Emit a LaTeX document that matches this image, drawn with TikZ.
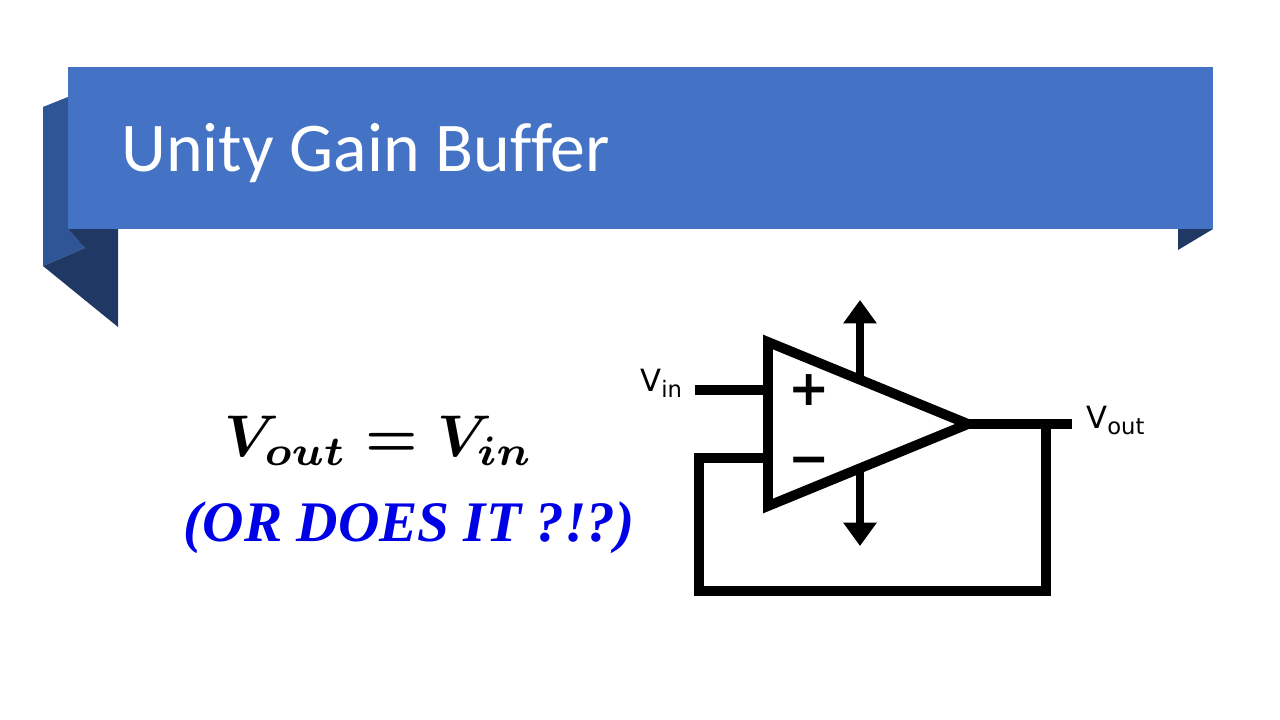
\documentclass[tikz,border=0pt]{standalone}
\usepackage{fontspec}
\usepackage{amssymb}
\usetikzlibrary{calc, arrows.meta}
\newfontfamily\titlefont[Ligatures=NoCommon]{Carlito}
\newfontfamily\notefont{Liberation Serif}
\newfontfamily\pinfont{DejaVu Sans}
\definecolor{bannerblue}{HTML}{4472C4}
\definecolor{foldblue}{HTML}{2F5597}
\definecolor{folddark}{HTML}{203864}
\definecolor{noteblue}{HTML}{0000E6}
\begin{document}
\begin{tikzpicture}[x=0.75pt,y=-0.75pt]
\tikzstyle{wire} = [draw, line width=7.4pt, line cap=butt, miter limit=10]
\tikzstyle{supply} = [draw, line width=5.6pt, -{Triangle[length=17.5pt,width=24pt]}]
\tikzstyle{pin} = [inner sep=0pt, anchor=base west, font=\pinfont\fontsize{23}{26}\selectfont]
\tikzstyle{sign} = [inner sep=0pt, font=\pinfont\bfseries\fontsize{37}{40}\selectfont]
\useasboundingbox (0,0) rectangle (1280,720);
% banner
\fill[foldblue] (68,97) -- (43,107) -- (43,266) -- (85,248) -- (68,229) -- cycle;
\fill[folddark] (68,229) -- (118,229) -- (118,327) -- (43,266) -- (85,248) -- cycle;
\fill[folddark] (1178,229) -- (1213,229) -- (1178,250) -- cycle;
\fill[bannerblue] (68,67) rectangle (1213,229);
\node[inner sep=0pt, anchor=base west, text=white, font=\titlefont\fontsize{52.4}{60}\selectfont] (title) at (121,172) {Unity Gain Buffer};
% left hand text
\node[inner sep=0pt, anchor=center, scale=4.41] (equation) at (379,441) {{\boldmath$V_{out}=V_{in}$}};
\node[inner sep=0pt, anchor=base, text=noteblue, font=\notefont\bfseries\itshape\fontsize{43}{48}\selectfont] (note) at (409,541) {(OR DOES IT ?!?)};
% op amp
\coordinate (T_1) at (768,342);
\coordinate (T_2) at (968,424);
\coordinate (T_3) at (768,506);
\coordinate (I_1) at (695,390);
\coordinate (I_2) at (768,390);
\coordinate (F_1) at (768,458);
\coordinate (F_2) at (699,458);
\coordinate (F_3) at (699,591);
\coordinate (F_4) at (1046,591);
\coordinate (F_5) at (1046,424);
\coordinate (O_1) at (1072,424);
\coordinate (S_1) at (860,380);
\coordinate (S_2) at (860,300);
\coordinate (S_3) at (860,468);
\coordinate (S_4) at (860,546);
\path [supply] (S_1) -- (S_2);
\path [supply] (S_3) -- (S_4);
\path [wire] (T_1) -- (T_2) -- (T_3) -- cycle;
\path [wire] (I_1) -- (I_2);
\path [wire] (T_2) -- (O_1);
\path [wire] (F_1) -- (F_2) -- (F_3) -- (F_4) -- (F_5);
\node[sign] (plus) at (809,390) {+};
\node[sign] (minus) at (809,466) {\char"2212};
\node[pin] (vin) at (640,391) {V\raisebox{-4.5pt}{\fontsize{17}{17}\selectfont in}};
\node[pin] (vout) at (1086,428) {V\raisebox{-4.5pt}{\fontsize{17}{17}\selectfont out}};
\end{tikzpicture}
\end{document}
